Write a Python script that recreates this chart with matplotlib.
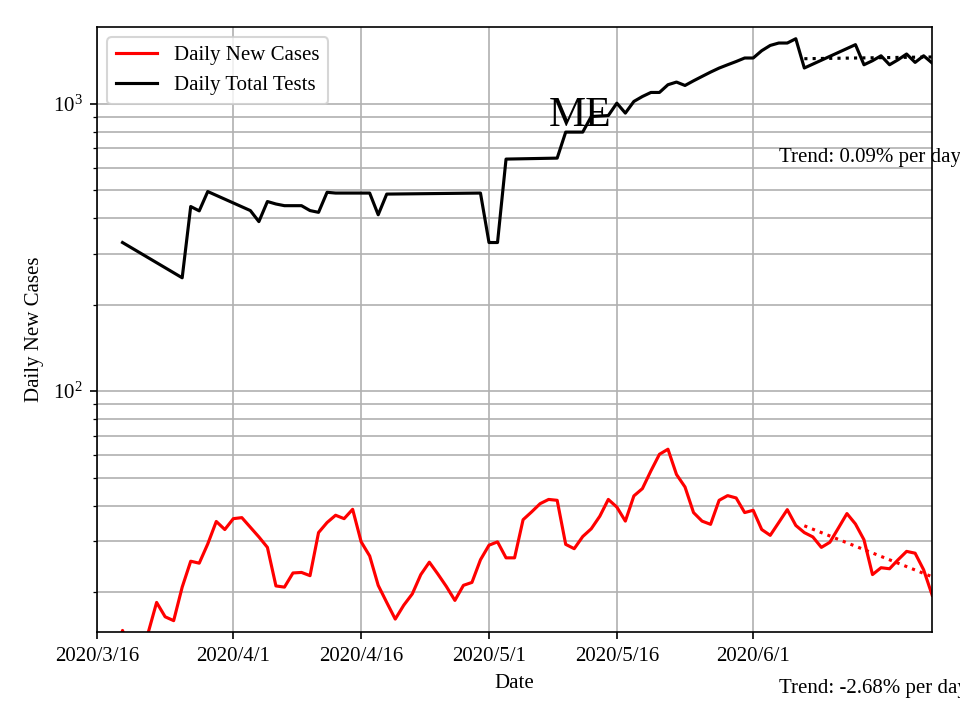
import numpy as np
import pandas as pd
import matplotlib
matplotlib.use("Agg")
import matplotlib.pyplot as plt
import matplotlib.dates as mdates
from matplotlib.ticker import FuncFormatter

plt.rcParams['font.family'] = ['Liberation Serif', 'DejaVu Serif']
plt.rcParams['mathtext.fontset'] = 'stix'
plt.rcParams['font.size'] = 10

# ---- values ----
case_start = "2020-03-18"
daily_cases = [11, 14.7, 12, 11, 14.4, 18.4, 16.4, 15.9, 20.8, 25.6,
               25.2, 29.4, 35.2, 33.0, 36.0, 36.3, 33.6, 31.1, 28.6, 21.0,
               20.8, 23.3, 23.4, 22.8, 32.2, 34.9, 37.0, 36.0, 38.8, 29.9,
               26.7, 21.1, 18.4, 16.1, 18.0, 19.7, 23.0, 25.4, 23.1, 20.9,
               18.7, 21.1, 21.6, 25.9, 29.1, 29.9, 26.3, 26.3, 35.7, 38.0,
               40.6, 42.0, 41.7, 29.3, 28.3, 31.2, 33.2, 36.7, 42.0, 39.5,
               35.3, 43.2, 45.8, 52.8, 60.3, 62.8, 51.3, 46.4, 37.8, 35.3,
               34.4, 41.7, 43.3, 42.5, 37.8, 38.5, 33.0, 31.5, 34.9, 38.7,
               34.1, 32.2, 31.1, 28.6, 29.8, 33.4, 37.5, 34.5, 30.4, 23.0,
               24.3, 24.1, 25.9, 27.7, 27.3, 23.9, 19.5]

test_dates = ["2020-03-19", "2020-03-26", "2020-03-27", "2020-03-28", "2020-03-29",
              "2020-04-03", "2020-04-04", "2020-04-05", "2020-04-06", "2020-04-07",
              "2020-04-09", "2020-04-10", "2020-04-11", "2020-04-12", "2020-04-13",
              "2020-04-17", "2020-04-18", "2020-04-19", "2020-04-30", "2020-05-01",
              "2020-05-02", "2020-05-03", "2020-05-09", "2020-05-10", "2020-05-12",
              "2020-05-13", "2020-05-15", "2020-05-16", "2020-05-17", "2020-05-18",
              "2020-05-19", "2020-05-20", "2020-05-21", "2020-05-22", "2020-05-23",
              "2020-05-24", "2020-05-25", "2020-05-26", "2020-05-27", "2020-05-28",
              "2020-05-29", "2020-05-30", "2020-05-31", "2020-06-01", "2020-06-02",
              "2020-06-03", "2020-06-04", "2020-06-05", "2020-06-06", "2020-06-07",
              "2020-06-13", "2020-06-14", "2020-06-15", "2020-06-16", "2020-06-17",
              "2020-06-18", "2020-06-19", "2020-06-20", "2020-06-21", "2020-06-22"]
daily_tests = [329, 248, 439, 424, 495,
               425, 389, 457, 448, 442,
               442, 425, 419, 492, 489,
               489, 411, 485, 489, 329,
               329, 642, 647, 797, 797,
               903, 910, 1005, 928, 1019,
               1060, 1095, 1095, 1165, 1190,
               1158, 1202, 1245, 1289, 1331,
               1367, 1403, 1443, 1443, 1530,
               1596, 1627, 1627, 1684, 1332,
               1606, 1367, 1412, 1469, 1367,
               1423, 1490, 1393, 1469, 1386]

trend_dates = ["2020-06-07", "2020-06-22"]
case_trend = [34.0, 22.6]
test_trend = [1435, 1455]
case_trend_label = "Trend: -2.68% per day"
test_trend_label = "Trend: 0.09% per day"

tick_dates = ["2020-03-16", "2020-04-01", "2020-04-16",
              "2020-05-01", "2020-05-16", "2020-06-01"]
x_range = ["2020-03-16", "2020-06-22"]

case_x = pd.date_range(case_start, periods=len(daily_cases), freq="D")
test_x = pd.to_datetime(test_dates)
trend_x = pd.to_datetime(trend_dates)

fig, ax = plt.subplots(figsize=(6.4, 4.8), dpi=150)
fig.subplots_adjust(left=0.101, right=0.971, top=0.9625, bottom=0.122)

ax.plot(case_x, daily_cases, color='red', label='Daily New Cases')
ax.plot(test_x, daily_tests, color='black', label='Daily Total Tests')
ax.plot(trend_x, case_trend, color='red', linestyle=':')
ax.plot(trend_x, test_trend, color='black', linestyle=':')

ax.set_yscale('log')
ax.set_ylim(14.5, 1850)
ax.set_xlim(pd.Timestamp(x_range[0]), pd.Timestamp(x_range[1]))
ax.set_xticks(pd.to_datetime(tick_dates))


def fmt_date(v, pos):
    d = mdates.num2date(v)
    return f"{d.year}/{d.month}/{d.day}"


ax.xaxis.set_major_formatter(FuncFormatter(fmt_date))
ax.grid(True, which='major')
ax.grid(True, which='minor', axis='y')

ax.text(pd.Timestamp("2020-05-08"), 840, "ME", fontsize=20)
ax.text(pd.Timestamp("2020-06-04"), 650, test_trend_label, va='center')
ax.text(pd.Timestamp("2020-06-04"), 9.2, case_trend_label, va='center')

ax.set_xlabel("Date")
ax.set_ylabel("Daily New Cases")
ax.legend(loc='upper left')

fig.savefig("out.png")
